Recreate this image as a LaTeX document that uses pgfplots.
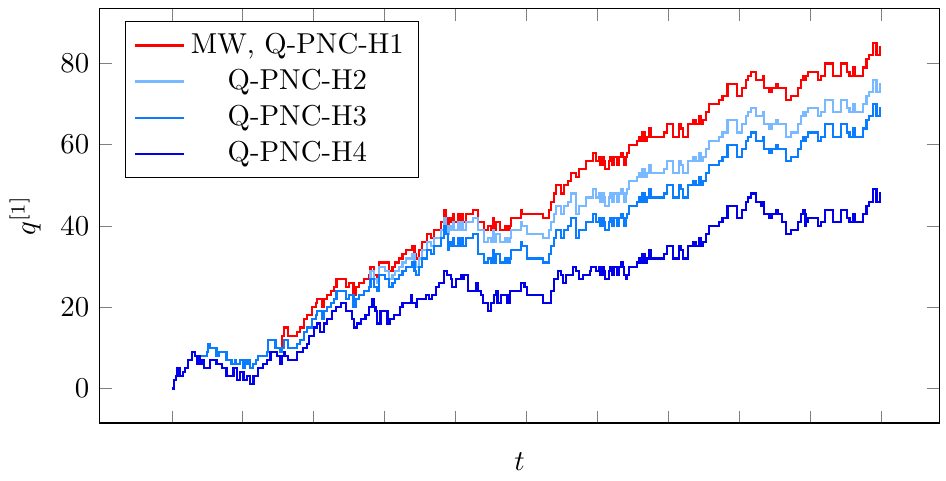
\documentclass[border={0pt 0pt 2pt 2.8pt}]{standalone}
\usepackage{pgfplots}
\usepackage{pgfplotstable}
\pgfplotsset{compat=1.18}
\definecolor{cH2}{RGB}{120,185,255}
\definecolor{cH3}{RGB}{10,125,255}
\definecolor{cH4}{RGB}{0,0,235}
\pgfplotstableread{
t red h2 h3
0 0 0 0
3 2 2 2
6 3 3 3
8 5 5 5
11 3 3 3
16 4 4 4
18 5 5 5
23 7 7 7
28 9 9 9
33 8 8 8
35 6 6 6
38 8 8 8
49 9 9 9
51 11 11 11
53 10 10 10
63 8 8 8
67 9 9 9
77 7 7 7
84 6 6 6
89 7 7 7
91 6 6 6
96 7 7 7
101 5 5 5
103 7 7 7
106 6 6 6
108 7 7 7
110 5 5 5
114 6 6 6
119 7 7 7
122 8 8 8
134 9 9 9
136 12 12 12
146 10 10 10
153 9 9 9
155 13 10 10
158 15 12 12
164 13 10 10
176 14 11 11
181 15 12 12
186 17 14 14
191 18 15 15
197 20 17 17
203 21 18 18
205 22 19 19
212 20 17 17
214 22 19 19
219 23 20 20
224 24 21 21
229 25 22 22
232 27 24 24
245 25 22 22
250 26 23 23
256 23 20 20
259 25 22 22
264 26 23 23
271 27 24 24
278 28 25 25
280 30 29 27
285 28 27 25
289 27 26 24
292 31 30 28
300 31 29 27
306 29 27 25
311 30 28 26
315 31 29 27
320 32 30 28
325 33 31 29
330 34 32 30
339 35 33 31
342 33 31 29
344 32 30 28
348 34 32 30
353 36 34 32
360 38 36 34
365 37 35 33
369 39 37 35
379 41 39 37
384 44 42 40
386 42 40 38
389 40 38 34
391 42 40 36
393 41 39 35
396 43 41 37
398 41 39 35
403 43 41 37
405 41 39 35
407 43 41 37
410 41 39 35
414 43 41 37
424 44 42 38
431 41 39 33
440 39 36 31
445 40 37 32
450 39 36 31
452 42 39 34
454 39 36 31
457 41 38 33
462 39 36 31
469 40 37 32
473 39 36 31
476 40 37 32
478 42 39 34
492 44 41 36
494 43 40 35
500 43 38 32
523 42 37 31
532 44 39 33
534 46 41 35
539 48 43 37
541 50 45 39
549 48 43 37
553 50 45 39
558 51 46 40
563 53 48 42
570 52 43 37
574 54 45 39
584 56 47 41
593 58 49 43
598 56 47 41
602 57 48 42
604 55 46 40
607 57 48 42
609 56 47 41
611 54 45 39
616 56 47 41
618 57 48 42
621 55 46 40
623 57 48 42
628 55 46 40
630 57 48 42
633 58 49 43
635 57 48 42
637 55 46 40
640 57 48 42
642 58 49 43
644 60 51 45
656 61 52 46
658 62 53 47
661 61 52 46
663 63 54 48
666 61 52 46
670 62 53 47
673 64 55 49
675 62 53 47
694 63 54 48
698 65 56 50
706 62 53 47
715 65 56 50
717 64 55 49
720 62 53 47
727 65 56 50
734 66 57 51
738 65 56 50
743 67 58 52
746 65 56 50
748 66 57 51
753 68 59 53
757 70 61 55
771 71 62 56
776 72 63 57
783 75 66 60
797 72 63 57
804 74 65 59
809 76 67 61
812 77 68 62
816 78 69 63
823 76 67 61
833 77 68 62
835 74 65 59
842 73 64 58
845 74 65 59
852 75 66 60
854 74 65 59
866 71 62 56
873 72 63 57
882 74 65 59
887 76 67 61
889 77 68 62
892 76 67 61
894 77 68 62
896 78 69 63
911 76 67 61
915 77 68 62
920 80 71 65
932 77 68 62
943 80 71 65
951 78 69 63
955 77 68 62
960 79 70 64
962 77 68 62
974 79 70 64
979 81 72 66
983 82 73 67
988 85 76 70
993 82 73 67
998 84 75 69
1000 84 75 69
}\datamain
\pgfplotstableread{
t q
0 0
3 2
6 3
8 5
11 3
16 4
18 5
23 7
28 9
33 8
35 6
38 8
40 6
42 7
45 5
54 7
63 6
71 5
77 3
87 5
92 2
96 4
101 2
106 3
110 1
115 3
122 5
129 6
134 7
139 9
148 8
153 6
155 8
158 9
160 8
164 7
176 9
185 10
190 11
193 13
200 15
205 16
209 14
214 16
219 17
226 19
231 20
238 21
245 19
254 17
257 15
261 16
266 17
273 18
278 20
282 22
285 20
287 19
289 16
294 19
304 16
308 17
313 18
322 20
325 21
337 23
339 21
344 20
346 22
358 23
362 22
367 23
372 25
376 26
384 29
388 28
393 27
395 25
400 27
407 28
410 27
412 28
417 24
429 26
431 24
436 23
438 21
445 19
450 21
454 23
457 24
459 21
464 23
473 21
476 24
492 26
497 25
501 23
523 21
534 24
539 27
544 29
549 28
551 26
556 28
565 30
570 29
574 27
579 28
589 29
591 30
598 29
602 30
604 28
607 30
609 29
611 27
616 29
618 30
621 28
623 30
628 28
630 30
633 31
635 30
637 28
640 27
642 28
644 30
656 31
658 32
661 31
663 33
666 31
670 32
673 34
675 32
694 33
698 35
706 32
715 35
717 34
720 32
727 35
734 36
738 35
743 37
746 35
748 36
753 38
757 40
771 41
776 42
783 45
797 42
804 44
809 46
812 47
816 48
823 46
830 45
833 46
835 43
842 42
845 43
852 44
854 43
860 41
866 38
873 39
882 41
887 43
889 44
892 43
893 40
894 41
896 42
911 40
915 41
920 44
932 41
943 44
951 42
955 41
960 43
962 41
974 43
979 45
983 46
988 49
993 46
998 48
1000 48
}\datahfour
\begin{document}
\begin{tikzpicture}
\begin{axis}[
  scale only axis,
  width=292pt, height=144pt,
  xmin=-102, xmax=1082,
  ymin=-8.5, ymax=93.5,
  xtick={0,100,...,1000},
  xticklabels={},
  ytick={0,20,40,60,80},
  xlabel={$t$},
  ylabel={$q^{[1]}$},
  legend pos=north west,
  legend cell align=center,
  every axis plot/.append style={line width=0.75pt},
]
\addplot[const plot, red] table[x=t, y=red] {\datamain};
\addlegendentry{MW, Q-PNC-H1}
\addplot[const plot, cH2] table[x=t, y=h2] {\datamain};
\addlegendentry{Q-PNC-H2}
\addplot[const plot, cH3] table[x=t, y=h3] {\datamain};
\addlegendentry{Q-PNC-H3}
\addplot[const plot, cH4] table[x=t, y=q] {\datahfour};
\addlegendentry{Q-PNC-H4}
\end{axis}
\end{tikzpicture}
\end{document}
